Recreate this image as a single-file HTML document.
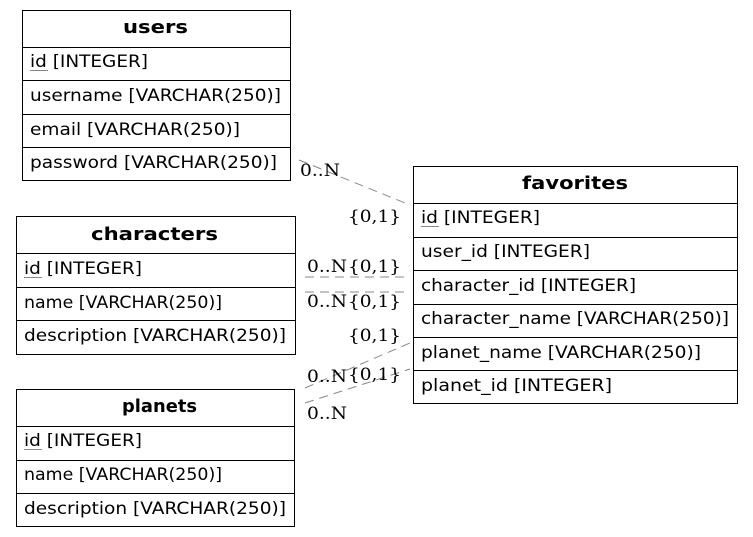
<!DOCTYPE html>
<html><head><meta charset="utf-8"><style>
html,body{margin:0;padding:0;background:#fff;}
svg{display:block;}
.t{font-family:"DejaVu Sans",sans-serif;font-size:17px;fill:#000;}
.h{font-family:"DejaVu Sans",sans-serif;font-size:18px;font-weight:bold;fill:#000;}
.l{font-family:"DejaVu Serif",serif;font-size:17px;fill:#000;}
.e{stroke:#888;stroke-width:1;stroke-dasharray:9,6;fill:none;}
</style></head><body>
<svg width="753" height="537" viewBox="0 0 753 537" xmlns="http://www.w3.org/2000/svg">
<g stroke="#000" stroke-width="1" fill="none">
<rect x="22.5" y="10.5" width="268" height="170"/>
<line x1="22" y1="47.5" x2="291" y2="47.5"/>
<line x1="22" y1="80.5" x2="291" y2="80.5"/>
<line x1="22" y1="114.5" x2="291" y2="114.5"/>
<line x1="22" y1="147.5" x2="291" y2="147.5"/>
<rect x="16.5" y="216.5" width="279" height="138"/>
<line x1="16" y1="253.5" x2="296" y2="253.5"/>
<line x1="16" y1="287.5" x2="296" y2="287.5"/>
<line x1="16" y1="320.5" x2="296" y2="320.5"/>
<rect x="16.5" y="389.5" width="278" height="137"/>
<line x1="16" y1="426.5" x2="295" y2="426.5"/>
<line x1="16" y1="460.5" x2="295" y2="460.5"/>
<line x1="16" y1="493.5" x2="295" y2="493.5"/>
<rect x="413.5" y="166.5" width="324" height="237"/>
<line x1="413" y1="203.5" x2="738" y2="203.5"/>
<line x1="413" y1="237.5" x2="738" y2="237.5"/>
<line x1="413" y1="270.5" x2="738" y2="270.5"/>
<line x1="413" y1="304.5" x2="738" y2="304.5"/>
<line x1="413" y1="337.5" x2="738" y2="337.5"/>
<line x1="413" y1="370.5" x2="738" y2="370.5"/>
</g>
<g stroke="#888" stroke-width="1">
<line x1="30" y1="70.5" x2="48" y2="70.5"/>
<line x1="24" y1="277.5" x2="42" y2="277.5"/>
<line x1="24" y1="449.5" x2="42" y2="449.5"/>
<line x1="421" y1="226.5" x2="439" y2="226.5"/>
</g>
<line class="e" x1="299" y1="160" x2="410" y2="205"/>
<line class="e" x1="305" y1="277" x2="410" y2="277"/>
<line class="e" x1="305" y1="292" x2="410" y2="292"/>
<line class="e" x1="305" y1="388" x2="410" y2="343"/>
<line class="e" x1="305" y1="403" x2="410" y2="369"/>

<text class="h" x="123" y="33" textLength="65" lengthAdjust="spacingAndGlyphs">users</text>
<text class="t" x="30" y="67" textLength="118" lengthAdjust="spacingAndGlyphs">id [INTEGER]</text>
<text class="t" x="30" y="101" textLength="251" lengthAdjust="spacingAndGlyphs">username [VARCHAR(250)]</text>
<text class="t" x="30" y="135" textLength="210" lengthAdjust="spacingAndGlyphs">email [VARCHAR(250)]</text>
<text class="t" x="30" y="168" textLength="247" lengthAdjust="spacingAndGlyphs">password [VARCHAR(250)]</text>

<text class="h" x="91" y="240" textLength="127" lengthAdjust="spacingAndGlyphs">characters</text>
<text class="t" x="24" y="274" textLength="118" lengthAdjust="spacingAndGlyphs">id [INTEGER]</text>
<text class="t" x="24" y="308" textLength="198" lengthAdjust="spacingAndGlyphs">name [VARCHAR(250)]</text>
<text class="t" x="24" y="341" textLength="262" lengthAdjust="spacingAndGlyphs">description [VARCHAR(250)]</text>

<text class="h" x="122" y="412" textLength="75" lengthAdjust="spacingAndGlyphs">planets</text>
<text class="t" x="24" y="446" textLength="118" lengthAdjust="spacingAndGlyphs">id [INTEGER]</text>
<text class="t" x="24" y="480" textLength="198" lengthAdjust="spacingAndGlyphs">name [VARCHAR(250)]</text>
<text class="t" x="24" y="514" textLength="262" lengthAdjust="spacingAndGlyphs">description [VARCHAR(250)]</text>

<text class="h" x="522" y="189" textLength="106" lengthAdjust="spacingAndGlyphs">favorites</text>
<text class="t" x="421" y="223" textLength="119" lengthAdjust="spacingAndGlyphs">id [INTEGER]</text>
<text class="t" x="421" y="257" textLength="169" lengthAdjust="spacingAndGlyphs">user_id [INTEGER]</text>
<text class="t" x="421" y="291" textLength="215" lengthAdjust="spacingAndGlyphs">character_id [INTEGER]</text>
<text class="t" x="421" y="324" textLength="308" lengthAdjust="spacingAndGlyphs">character_name [VARCHAR(250)]</text>
<text class="t" x="421" y="358" textLength="280" lengthAdjust="spacingAndGlyphs">planet_name [VARCHAR(250)]</text>
<text class="t" x="421" y="391" textLength="191" lengthAdjust="spacingAndGlyphs">planet_id [INTEGER]</text>

<text class="l" x="300" y="176" textLength="40" lengthAdjust="spacingAndGlyphs">0..N</text>
<text class="l" x="348" y="222" textLength="53" lengthAdjust="spacingAndGlyphs">{0,1}</text>
<text class="l" x="307" y="272" textLength="40" lengthAdjust="spacingAndGlyphs">0..N</text>
<text class="l" x="348" y="272" textLength="53" lengthAdjust="spacingAndGlyphs">{0,1}</text>
<text class="l" x="307" y="307" textLength="40" lengthAdjust="spacingAndGlyphs">0..N</text>
<text class="l" x="348" y="307" textLength="53" lengthAdjust="spacingAndGlyphs">{0,1}</text>
<text class="l" x="348" y="341" textLength="53" lengthAdjust="spacingAndGlyphs">{0,1}</text>
<text class="l" x="307" y="382" textLength="40" lengthAdjust="spacingAndGlyphs">0..N</text>
<text class="l" x="348" y="380" textLength="53" lengthAdjust="spacingAndGlyphs">{0,1}</text>
<text class="l" x="307" y="419" textLength="40" lengthAdjust="spacingAndGlyphs">0..N</text>
</svg>
</body></html>
